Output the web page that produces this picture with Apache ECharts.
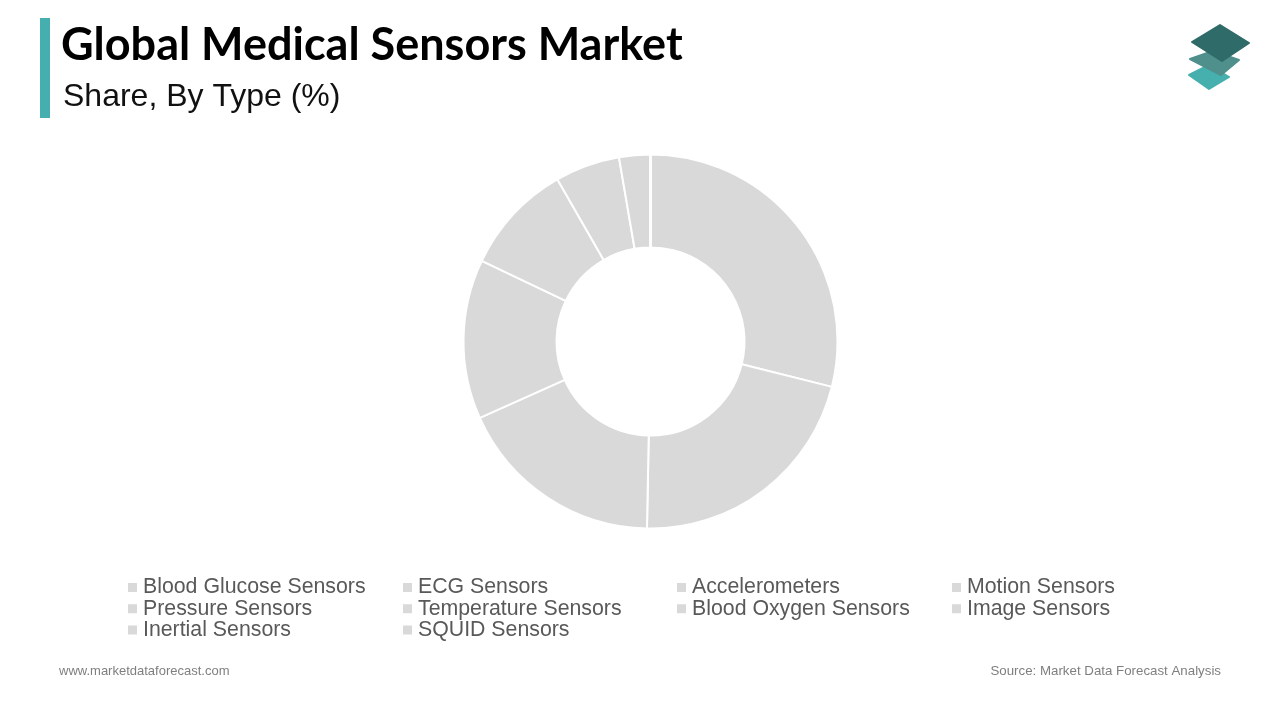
<!DOCTYPE html>
<html><head><meta charset="utf-8">
<style>html,body{margin:0;padding:0;background:#fff}#c{width:1280px;height:720px}</style>
<script src="https://cdn.jsdelivr.net/npm/echarts@6/dist/echarts.min.js"></script>
</head><body><div id="c"></div>
<script>
const categories = ["Blood Glucose Sensors","ECG Sensors","Accelerometers","Motion Sensors","Pressure Sensors","Temperature Sensors","Blood Oxygen Sensors","Image Sensors","Inertial Sensors","SQUID Sensors"];
const shares = [28.9,21.4,18,13.8,9.6,5.6,2.7,0,0,0];
const titleText = "Global Medical Sensors Market";
const subtitleText = "Share, By Type (%)";
const siteText = "www.marketdataforecast.com";
const sourceText = "Source: Market Data Forecast Analysis";

const chart = echarts.init(document.getElementById('c'), null, {renderer:'canvas', width:1280, height:720});
const legendCols = [126,401,675,950];
const font = "'Liberation Sans', Arial, sans-serif";
const logoStyle = c => ({fill:c,stroke:c,lineWidth:2,lineJoin:'round'});
chart.setOption({
  animation:false,
  backgroundColor:'#fff',
  color:['#d9d9d9'],
  title:[
    {text:titleText,left:61,top:23,padding:0,textStyle:{fontFamily:"Lato",fontWeight:'bold',fontSize:45,color:'#000'}},
    {text:subtitleText,left:63,top:81,padding:0,textStyle:{fontFamily:font,fontWeight:'normal',fontSize:32,color:'#111'}},
    {text:siteText,left:59,top:665,padding:0,textStyle:{fontFamily:font,fontWeight:'normal',fontSize:13,color:'#7f7f7f'}},
    {text:sourceText,right:59,top:665,padding:0,textStyle:{fontFamily:font,fontWeight:'normal',fontSize:13.3,color:'#7f7f7f'}}
  ],
  legend:legendCols.map((x,i)=>({
    left:x,top:577,padding:0,orient:'vertical',icon:'rect',itemWidth:11,itemHeight:11,itemGap:0.2,
    selectedMode:false,
    data:categories.filter((_,k)=>k%4===i),
    textStyle:{fontFamily:font,fontSize:21.3,color:'#595959'}
  })),
  series:[{
    type:'pie',center:[650.5,341.5],radius:[94,187],startAngle:90,clockwise:true,
    silent:true,label:{show:false},labelLine:{show:false},
    itemStyle:{color:'#d9d9d9',borderColor:'#fff',borderWidth:2},
    data:categories.map((n,i)=>({name:n,value:shares[i]}))
  }],
  graphic:[
    {type:'rect',shape:{x:40,y:18,width:10,height:100},style:{fill:'#45aeae'}},
    {type:'polygon',shape:{points:[[1189,75],[1209,65],[1229,77],[1209,89]]},style:logoStyle('#45b0ae')},
    {type:'polygon',shape:{points:[[1190,59],[1213,51],[1239,60],[1221,75]]},style:logoStyle('#4f8f8c')},
    {type:'polygon',shape:{points:[[1192,42],[1220,25],[1249,43],[1222,61]]},style:logoStyle('#2f6b68')}
  ]
});
</script></body></html>
